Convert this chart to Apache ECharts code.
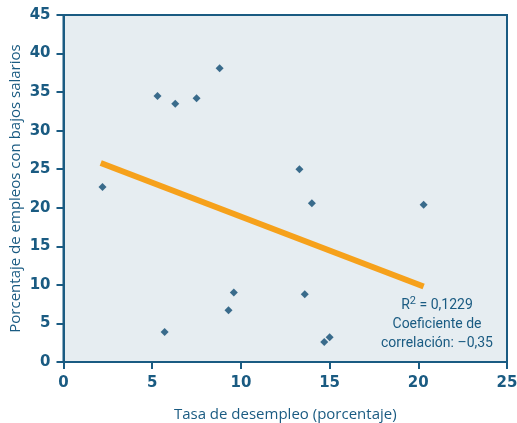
<!DOCTYPE html>
<html>
<head>
<meta charset="utf-8">
<script src="https://cdn.jsdelivr.net/npm/echarts@6/dist/echarts.min.js"></script>
<style>
  html, body { margin: 0; padding: 0; background: #ffffff; }
  #chart { width: 517px; height: 423px; }
</style>
</head>
<body>
<div id="chart"></div>
<script>
// Unemployment rate (%) per region
const unemployment = [2.2, 5.3, 6.3, 7.5, 8.8, 13.3, 14.0, 20.3, 9.6, 9.3, 13.6, 5.7, 14.7, 15.0];
// Share of low-wage jobs (%) per region
const lowWageShare = [22.7, 34.5, 33.5, 34.2, 38.1, 25.0, 20.6, 20.4, 9.0, 6.7, 8.8, 3.9, 2.6, 3.2];
// Fitted trend line endpoints
const trendX = [2.1, 20.3];
const trendY = [25.8, 9.8];

const xTicks = { min: 0, max: 25, interval: 5 };
const yTicks = { min: 0, max: 45, interval: 5 };

const NAVY = '#1a5b82';
const DOT = '#0e4a72';
const ORANGE = '#f6a11b';

const points = unemployment.map((x, i) => [x, lowWageShare[i]]);
const trend = trendX.map((x, i) => [x, trendY[i]]);

// Bold tick labels drawn via rich text
const tickRich = { t: { color: NAVY, fontSize: 15, fontWeight: 'bold', fontFamily: 'DejaVu Sans' } };
const tickFmt = v => '{t|' + v + '}';
const noteFont = { fontSize: 14, fill: NAVY, fontFamily: 'Roboto' };

const chart = echarts.init(document.getElementById('chart'));
chart.setOption({
  animation: false,
  grid: {
    left: 63.5, right: 10, top: 15, bottom: 61, containLabel: false, outerBoundsMode: 'none',
    show: true, backgroundColor: '#e6edf1', borderColor: NAVY, borderWidth: 2
  },
  xAxis: {
    type: 'value', min: xTicks.min, max: xTicks.max, interval: xTicks.interval,
    name: 'Tasa de desempleo (porcentaje)', nameLocation: 'middle', nameGap: 45, nameMoveOverlap: false,
    nameTextStyle: { color: NAVY, fontSize: 15, fontFamily: 'Open Sans' },
    axisLine: { lineStyle: { color: NAVY, width: 2 } },
    axisTick: { show: true, length: 7, lineStyle: { color: NAVY, width: 2 } },
    axisLabel: { margin: 14, formatter: tickFmt, rich: tickRich },
    splitLine: { show: false }
  },
  yAxis: {
    type: 'value', min: yTicks.min, max: yTicks.max, interval: yTicks.interval,
    name: 'Porcentaje de empleos con bajos salarios', nameLocation: 'middle', nameGap: 40, nameMoveOverlap: false,
    nameTextStyle: { color: NAVY, fontSize: 15, fontFamily: 'Open Sans' },
    axisLine: { lineStyle: { color: NAVY, width: 2 } },
    axisTick: { show: true, length: 7, lineStyle: { color: NAVY, width: 2 } },
    axisLabel: { margin: 13, formatter: tickFmt, rich: tickRich },
    splitLine: { show: false }
  },
  series: [
    {
      type: 'line', data: trend, symbol: 'none', z: 2,
      lineStyle: { color: ORANGE, width: 6, cap: 'butt' }
    },
    {
      type: 'scatter', data: points, symbol: 'diamond', symbolSize: 8, z: 3,
      itemStyle: { color: DOT }
    }
  ],
  graphic: [
    {
      type: 'text', x: 437, y: 305, z: 10,
      style: {
        text: '{r|R}{s|2}{r| = 0,1229}', align: 'center', verticalAlign: 'middle',
        rich: {
          r: { fontSize: 14, fill: NAVY, fontFamily: 'Roboto' },
          s: { fontSize: 11, fill: NAVY, fontFamily: 'Roboto', padding: [0, 0, 7, 0] }
        }
      }
    },
    { type: 'text', x: 437, y: 324, z: 10, style: Object.assign({ text: 'Coeficiente de', align: 'center', verticalAlign: 'middle' }, noteFont) },
    { type: 'text', x: 437, y: 343, z: 10, style: Object.assign({ text: 'correlación: –0,35', align: 'center', verticalAlign: 'middle' }, noteFont) }
  ]
});
</script>
</body>
</html>
